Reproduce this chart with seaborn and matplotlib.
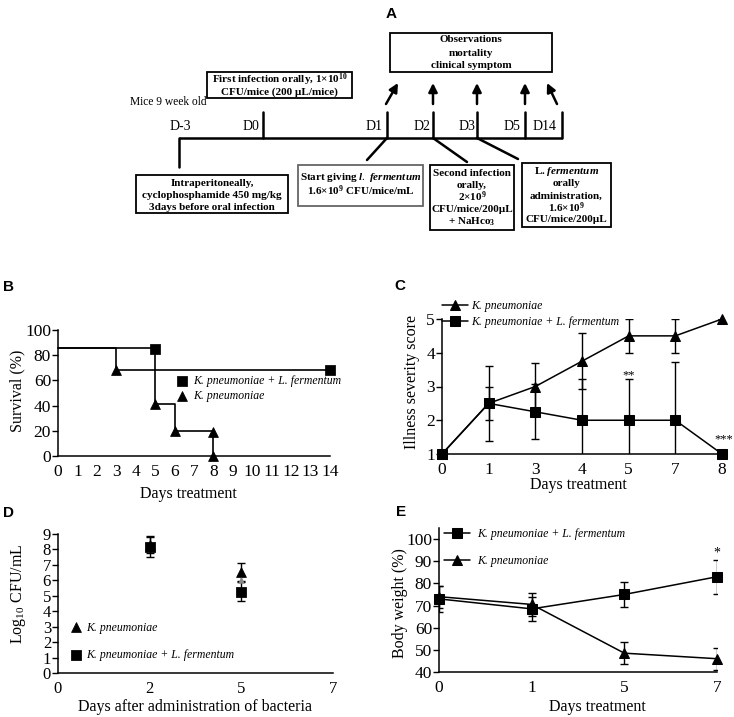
import matplotlib
matplotlib.use('Agg')
import matplotlib.pyplot as plt
from matplotlib.patches import Rectangle
import numpy as np
import pandas as pd
import seaborn as sns

sns.set_theme(style='ticks')
plt.rcParams.update({
    'font.family': ['Liberation Serif', 'DejaVu Serif'],
    'mathtext.fontset': 'custom',
    'mathtext.default': 'regular',
    'mathtext.rm': 'Liberation Serif',
    'mathtext.it': 'Liberation Serif:italic:bold',
    'mathtext.bf': 'Liberation Serif:bold',
    'axes.linewidth': 1.1,
    'axes.edgecolor': 'black',
    'axes.labelcolor': 'black',
    'xtick.color': 'black',
    'ytick.color': 'black',
    'text.color': 'black',
})

W, H = 734, 717

# --- B: survival ---
surv_kp_days = [0, 3, 5, 6, 8]
surv_kp = [86, 68, 41, 20, 0]
surv_kp_mark_days = [3, 5, 6, 8, 8]
surv_kp_mark = [68, 41, 20, 19, 0]
surv_lf_days = [0, 5, 14]
surv_lf = [86, 68, 68]
surv_lf_mark_days = [5, 14]
surv_lf_mark = [85, 68]

# --- C: illness severity score ---
sev_days = ['0', '1', '3', '4', '5', '7', '8']
sev_kp = [1, 2.5, 3, 3.75, 4.5, 4.5, 5]
sev_kp_err = [0, 0.5, 0.7, 0.83, 0.5, 0.5, 0]
sev_lf = [1, 2.5, 2.25, 2, 2, 2, 1]
sev_lf_err = [0, 1.1, 0.82, 1.22, 1.22, 1.73, 0]
sev_sig = ['', '', '', '', '**', '', '***']

# --- D: bacterial load ---
cfu_days = ['0', '2', '5', '7']
cfu_kp = [np.nan, 8.3, 6.55, np.nan]
cfu_kp_err = [0, 0.55, 0.6, 0]
cfu_lf = [np.nan, 8.15, 5.27, np.nan]
cfu_lf_err = [0, 0.65, 0.6, 0]
cfu_mid = [np.nan, np.nan, 6.0, np.nan]

# --- E: body weight ---
bw_days = ['0', '1', '5', '7']
bw_lf = [73, 68.5, 75, 83]
bw_lf_err = [6, 5.5, 5.7, 7.6]
bw_kp = [74, 70.5, 48.5, 46]
bw_kp_err = [5, 5, 5, 5]
bw_sig = ['', '', '', '*']

KP = 'K. pneumoniae'
KPLF = 'K. pneumoniae + L. fermentum'

fig = plt.figure(figsize=(W / 100, H / 100), dpi=100)


def box_ax(x0, y0, x1, y1):
    # pixel box (top-left origin) -> figure axes
    return fig.add_axes([x0 / W, 1 - y1 / H, (x1 - x0) / W, (y1 - y0) / H])


def style(ax, size=12.5):
    sns.despine(ax=ax)
    ax.grid(False)
    ax.tick_params(axis='y', direction='out', length=4, width=1, labelsize=size, pad=1)
    ax.tick_params(axis='x', length=0, labelsize=size, pad=6)


def letter(x, y, s):
    fig.text(x / W, 1 - y / H, s, fontsize=11, fontweight='bold',
             family='Liberation Sans', ha='center', va='center')


def unclip_new_lines(ax, n_before):
    for ln in ax.lines[n_before:]:
        ln.set_clip_on(False)


# ================= A: schematic =================
axA = fig.add_axes([0, 1 - 240 / H, 1, 240 / H])
axA.set_xlim(0, W)
axA.set_ylim(240, 0)
axA.axis('off')

tl_labels = ['D-3', 'D0', 'D1', 'D2', 'D3', 'D5', 'D14']
tl_x = [179, 263, 387, 433, 477, 525, 562]
tl_label_x = [180, 251, 374, 422, 467, 512, 545]

axA.plot([179, 562], [138, 138], color='black', lw=1.8, solid_capstyle='butt')
axA.plot([179, 179], [138, 167], color='black', lw=1.8)
for x in tl_x[1:]:
    axA.plot([x, x], [112, 138], color='black', lw=1.8)
for x, lab in zip(tl_label_x, tl_labels):
    axA.text(x, 127, lab, fontsize=10, ha='center', va='center')
axA.text(130, 102, 'Mice 9 week old', fontsize=8.3, ha='left', va='center')

arrow_dx = [12, 0, 0, 0, -10]
for x, dx in zip(tl_x[2:], arrow_dx):
    x0 = x - 1 if dx > 0 else (x - 5 if dx < 0 else x)
    axA.annotate('', xy=(x0 + dx, 83), xytext=(x0, 104),
                 arrowprops=dict(arrowstyle='-|>', lw=1.8, color='black',
                                 mutation_scale=13, shrinkA=0, shrinkB=0))

for (xa, ya), (xb, yb) in [((387, 138), (367, 160)), ((433, 138), (467, 162)),
                           ((477, 138), (518, 159))]:
    axA.plot([xa, xb], [ya, yb], color='black', lw=1.8)

boxes = [
    ((390, 33, 552, 72), ['Observations', 'mortality', 'clinical symptom'],
     [40, 53, 66], 'black'),
    ((207, 72, 352, 98), ['First infection orally, 1×10$^{10}$', 'CFU/mice (200 µL/mice)'],
     [80, 92], 'black'),
    ((136, 175, 288, 213), ['Intraperitoneally,', 'cyclophosphamide 450 mg/kg',
                            '3days before oral infection'], [183, 195, 207], 'black'),
    ((298, 165, 423, 206), ['Start giving $\\mathit{l.\\ fermentum}$',
                            '1.6×10$^{9}$ CFU/mice/mL'], [177, 191], '#666666'),
    ((430, 165, 514, 230), ['Second infection', 'orally,', '2×10$^{9}$',
                            'CFU/mice/200µL', '+ NaHco$_{3}$'],
     [173, 185, 197, 209, 222], 'black'),
    ((522, 163, 611, 227), ['L. $\\mathit{fermentum}$', 'orally', 'administration,',
                            '1.6×10$^{9}$', 'CFU/mice/200µL'],
     [172, 184, 196, 208, 220], 'black'),
]
for (x0, y0, x1, y1), lines, ys, ec in boxes:
    axA.add_patch(Rectangle((x0, y0), x1 - x0, y1 - y0, fill=False, ec=ec, lw=1.3))
    for s, y in zip(lines, ys):
        axA.text((x0 + x1) / 2, y, s, fontsize=8, fontweight='bold',
                 ha='center', va='center')

letter(391, 14, 'A')

# ================= B: survival =================
axB = box_ax(58, 330, 330, 456)
axB.step(surv_kp_days, surv_kp, where='post', color='black', lw=1.2, clip_on=False)
axB.step(surv_lf_days, surv_lf, where='post', color='black', lw=1.2, clip_on=False)
sns.scatterplot(x=surv_lf_mark_days, y=surv_lf_mark, marker='s', s=45, color='black',
                edgecolor='black', label=KPLF, ax=axB, clip_on=False, zorder=3)
sns.scatterplot(x=surv_kp_mark_days, y=surv_kp_mark, marker='^', s=50, color='black',
                edgecolor='black', label=KP, ax=axB, clip_on=False, zorder=3)
axB.set_xlim(0, 14)
axB.set_ylim(0, 100)
axB.set_xticks(range(0, 15))
axB.set_yticks(range(0, 101, 20))
style(axB)
axB.set_xlabel('Days treatment', fontsize=11.5)
axB.set_ylabel('Survival (%)', fontsize=11.5)
axB.xaxis.set_label_coords(0.48, -0.235)
axB.yaxis.set_label_coords(-0.12, 0.52)
axB.legend(loc='upper left', bbox_to_anchor=(0.435, 0.64), frameon=False,
           prop={'style': 'italic', 'size': 8.5}, handlelength=1.0,
           handletextpad=0.4, borderpad=0, borderaxespad=0, labelspacing=0.25)
letter(9, 287, 'B')

# ================= C: illness severity =================
axC = box_ax(442, 319, 722, 454)
xc = np.arange(len(sev_days))
axC.errorbar(xc, sev_kp, yerr=sev_kp_err, fmt='none', ecolor='black', elinewidth=1,
             capsize=3, capthick=1)
axC.errorbar(xc, sev_lf, yerr=sev_lf_err, fmt='none', ecolor='black', elinewidth=1,
             capsize=3, capthick=1)
n0 = len(axC.lines)
sns.lineplot(x=xc, y=sev_kp, marker='^', markersize=7, color='black', lw=1.1,
             markeredgecolor='black', label=KP, ax=axC)
sns.lineplot(x=xc, y=sev_lf, marker='s', markersize=7, color='black', lw=1.1,
             markeredgecolor='black', label=KPLF, ax=axC)
unclip_new_lines(axC, n0)
for i, s in enumerate(sev_sig):
    if s == '**':
        axC.text(xc[i], sev_lf[i] + sev_lf_err[i] + 0.12, s, ha='center', va='center',
                 fontsize=9)
    elif s == '***':
        axC.text(xc[i] + 0.04, sev_lf[i] + 0.42, s, ha='center', va='center', fontsize=9)
axC.set_xlim(0, len(sev_days) - 1)
axC.set_ylim(1, 5)
axC.set_xticks(xc)
axC.set_xticklabels(sev_days)
axC.set_yticks([1, 2, 3, 4, 5])
style(axC)
axC.set_xlabel('Days treatment', fontsize=11.5)
axC.set_ylabel('Illness severity score', fontsize=11.5)
axC.xaxis.set_label_coords(0.486, -0.17)
axC.yaxis.set_label_coords(-0.08, 0.53)
axC.legend(loc='upper left', bbox_to_anchor=(0.0, 1.14), frameon=False,
           prop={'style': 'italic', 'size': 8.5}, handlelength=2.2,
           handletextpad=0.25, borderpad=0, borderaxespad=0, labelspacing=0.3)
letter(400, 286, 'C')

# ================= D: CFU =================
axD = box_ax(58, 534, 333, 673)
xd = np.arange(len(cfu_days))
axD.errorbar(xd, cfu_kp, yerr=cfu_kp_err, fmt='none', ecolor='black', elinewidth=1,
             capsize=3, capthick=1)
axD.errorbar(xd, cfu_lf, yerr=cfu_lf_err, fmt='none', ecolor='black', elinewidth=1,
             capsize=3, capthick=1)
sns.scatterplot(x=xd, y=cfu_kp, marker='^', s=50, color='black', edgecolor='black',
                label=KP, ax=axD, zorder=3)
sns.scatterplot(x=xd, y=cfu_lf, marker='s', s=50, color='black', edgecolor='black',
                label=KPLF, ax=axD, zorder=3)
sns.scatterplot(x=xd, y=cfu_mid, marker='^', s=18, color='#888888', edgecolor='#888888',
                ax=axD, zorder=4)
axD.set_xlim(0, len(cfu_days) - 1)
axD.set_ylim(0, 9)
axD.set_xticks(xd)
axD.set_xticklabels(cfu_days)
axD.set_yticks(range(0, 10))
style(axD, 12)
axD.set_xlabel('Days after administration of bacteria', fontsize=11.5)
axD.set_ylabel('Log$_{10}$ CFU/mL', fontsize=11.5)
axD.xaxis.set_label_coords(0.498, -0.19)
axD.yaxis.set_label_coords(-0.11, 0.57)
axD.legend(loc='upper left', bbox_to_anchor=(0.045, 0.37), frameon=False,
           prop={'style': 'italic', 'size': 8.5}, handlelength=1.0,
           handletextpad=0.3, borderpad=0, borderaxespad=0, labelspacing=1.3)
letter(9, 513, 'D')

# ================= E: body weight =================
axE = box_ax(439, 528, 717, 672)
xe = np.arange(len(bw_days))
axE.errorbar(xe, bw_lf, yerr=bw_lf_err, fmt='none', ecolor='black', elinewidth=1,
             capsize=3, capthick=1)
axE.errorbar(xe, bw_kp, yerr=bw_kp_err, fmt='none', ecolor='black', elinewidth=1,
             capsize=3, capthick=1)
n0 = len(axE.lines)
sns.lineplot(x=xe, y=bw_lf, marker='s', markersize=7, color='black', lw=1.1,
             markeredgecolor='black', label=KPLF, ax=axE)
sns.lineplot(x=xe, y=bw_kp, marker='^', markersize=7, color='black', lw=1.1,
             markeredgecolor='black', label=KP, ax=axE)
unclip_new_lines(axE, n0)
for i, s in enumerate(bw_sig):
    if s:
        axE.text(xe[i], bw_lf[i] + bw_lf_err[i] + 3, s, ha='center', va='center',
                 fontsize=10)
axE.set_xlim(0, len(bw_days) - 1)
axE.set_ylim(40, 105)
axE.set_xticks(xe)
axE.set_xticklabels(bw_days)
axE.set_yticks(range(40, 101, 10))
style(axE)
axE.set_xlabel('Days treatment', fontsize=11.5)
axE.set_ylabel('Body weight (%)', fontsize=11.5)
axE.xaxis.set_label_coords(0.568, -0.19)
axE.yaxis.set_label_coords(-0.113, 0.48)
axE.legend(loc='upper left', bbox_to_anchor=(0.018, 1.0), frameon=False,
           prop={'style': 'italic', 'size': 8.5}, handlelength=2.2,
           handletextpad=0.6, borderpad=0, borderaxespad=0, labelspacing=1.3)
letter(401, 512, 'E')

fig.savefig('out.png', dpi=100)
